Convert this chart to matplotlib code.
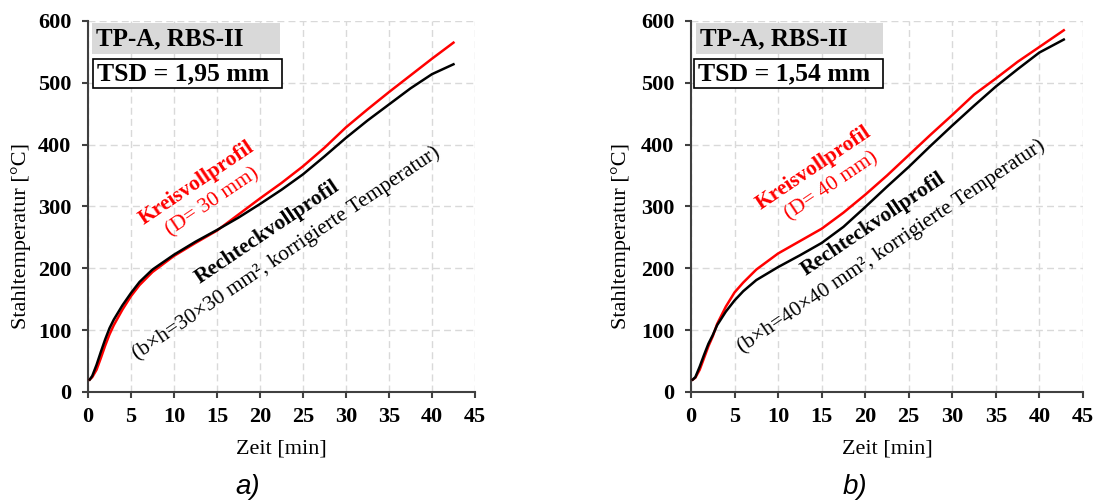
import numpy as np
import matplotlib
matplotlib.use('Agg')
import matplotlib.pyplot as plt
from matplotlib.patches import Rectangle

plt.rcParams['font.family'] = ['Liberation Serif', 'DejaVu Serif']

# Zeit [min]
zeit_a = [0.2, 0.5, 1, 1.5, 2, 2.5, 3, 4, 5, 6, 7.5, 10, 12.5, 15, 17.5,
          20, 22.5, 25, 27.5, 30, 32.5, 35, 37.5, 40, 42.5]
zeit_b = [0.2, 0.5, 1, 1.5, 2, 2.5, 3, 4, 5, 6, 7.5, 10, 12.5, 15, 17.5,
          20, 22.5, 25, 27.5, 30, 32.5, 35, 37.5, 40, 42.8]

# a) TSD = 1,95 mm
kreis_a = [20, 24, 36, 55, 75, 93, 108, 133, 155, 173, 194, 220, 241, 261, 287,
           313, 338, 365, 395, 428, 457, 485, 512, 539, 565]
rechteck_a = [20, 26, 44, 65, 85, 103, 117, 140, 160, 178, 198, 222, 243, 262, 282,
              304, 327, 352, 381, 411, 439, 465, 491, 514, 530]

# b) TSD = 1,54 mm
kreis_b = [20, 23, 36, 55, 74, 90, 110, 138, 161, 177, 198, 224, 244, 264, 290,
           319, 350, 383, 416, 448, 481, 507, 534, 558, 585]
rechteck_b = [20, 24, 41, 60, 78, 92, 108, 130, 148, 163, 181, 202, 221, 241, 267,
              299, 332, 364, 398, 431, 463, 494, 522, 549, 570]

xticks = [0, 5, 10, 15, 20, 25, 30, 35, 40, 45]
yticks = [0, 100, 200, 300, 400, 500, 600]

panels = [
    dict(pos=[0.0799, 0.2176, 0.3515, 0.7405], x=zeit_a, red=kreis_a, blk=rechteck_a,
         tsd='TSD = 1,95 mm', d='(D= 30 mm)', bh='(b×h=30×30 mm², korrigierte Temperatur)',
         kpos=(12.7, 338), dpos=(14.5, 307), rpos=(20.9, 259), bpos=(23.1, 225),
         gray=(0.010, 0.496), white=(0.013, 0.501), lab='a)', labx=248, ylx=-0.147),
    dict(pos=[0.6276, 0.2176, 0.356, 0.7405], x=zeit_b, red=kreis_b, blk=rechteck_b,
         tsd='TSD = 1,54 mm', d='(D= 40 mm)', bh='(b×h=40×40 mm², korrigierte Temperatur)',
         kpos=(14.1, 362), dpos=(16.2, 332), rpos=(21.0, 272), bpos=(23.0, 236),
         gray=(0.013, 0.490), white=(0.008, 0.490), lab='b)', labx=855, ylx=-0.153),
]

fig = plt.figure(figsize=(11.01, 5.01), dpi=100)

for p in panels:
    ax = fig.add_axes(p['pos'])
    ax.plot(p['x'], p['red'], color='#ff0000', lw=1.8, zorder=3)
    ax.plot(p['x'], p['blk'], color='black', lw=1.8, zorder=4)

    ax.set_xlim(0, 45)
    ax.set_ylim(0, 600)
    ax.set_xticks(xticks)
    ax.set_yticks(yticks)
    ax.grid(True, color='#d9d9d9', ls=(0, (5, 3)), lw=1.0)
    ax.set_axisbelow(True)
    for s in ['top', 'right']:
        ax.spines[s].set_visible(False)
    for s in ['left', 'bottom']:
        ax.spines[s].set_color('#404040')
        ax.spines[s].set_linewidth(1.5)
    ax.tick_params(axis='both', colors='#404040', width=1.5, length=4, labelcolor='black')
    ax.tick_params(axis='y', pad=8)
    ax.tick_params(axis='x', pad=7)
    for lbl in ax.get_xticklabels() + ax.get_yticklabels():
        lbl.set_fontweight('bold')
        lbl.set_fontsize(16)

    ax.set_xlabel('Zeit [min]', fontsize=16, labelpad=9)
    ax.set_ylabel('Stahltemperatur [°C]', fontsize=16)
    ax.yaxis.set_label_coords(p['ylx'], 0.42)

    # Kopfboxen
    g0, g1 = p['gray']
    ax.add_patch(Rectangle((g0, 0.911), g1 - g0, 0.083, transform=ax.transAxes,
                           facecolor='#d9d9d9', edgecolor='none', clip_on=False, zorder=5))
    ax.text(g0 + 0.01, 0.951, 'TP-A, RBS-II', transform=ax.transAxes, fontsize=18,
            fontweight='bold', va='center', ha='left', zorder=6)
    w0, w1 = p['white']
    ax.add_patch(Rectangle((w0, 0.819), w1 - w0, 0.079, transform=ax.transAxes,
                           facecolor='white', edgecolor='black', lw=1.2, clip_on=False, zorder=5))
    ax.text(w0 + 0.01, 0.858, p['tsd'], transform=ax.transAxes, fontsize=18.5,
            fontweight='bold', va='center', ha='left', zorder=6)

    rot = 34
    ax.text(*p['kpos'], 'Kreisvollprofil', color='#ff0000', fontsize=15.5, fontweight='bold',
            rotation=rot, rotation_mode='anchor', ha='center', va='center')
    ax.text(*p['dpos'], p['d'], color='#ff0000', fontsize=15.5,
            rotation=rot, rotation_mode='anchor', ha='center', va='center')
    ax.text(*p['rpos'], 'Rechteckvollprofil', color='black', fontsize=15.5, fontweight='bold',
            rotation=rot, rotation_mode='anchor', ha='center', va='center')
    ax.text(*p['bpos'], p['bh'], color='black', fontsize=15.5,
            rotation=rot, rotation_mode='anchor', ha='center', va='center')

    fig.text(p['labx'] / 1101, 1 - 487 / 501, p['lab'], fontsize=20, style='italic',
             family='Liberation Sans', ha='center', va='center')

fig.savefig('out.png', dpi=100)
